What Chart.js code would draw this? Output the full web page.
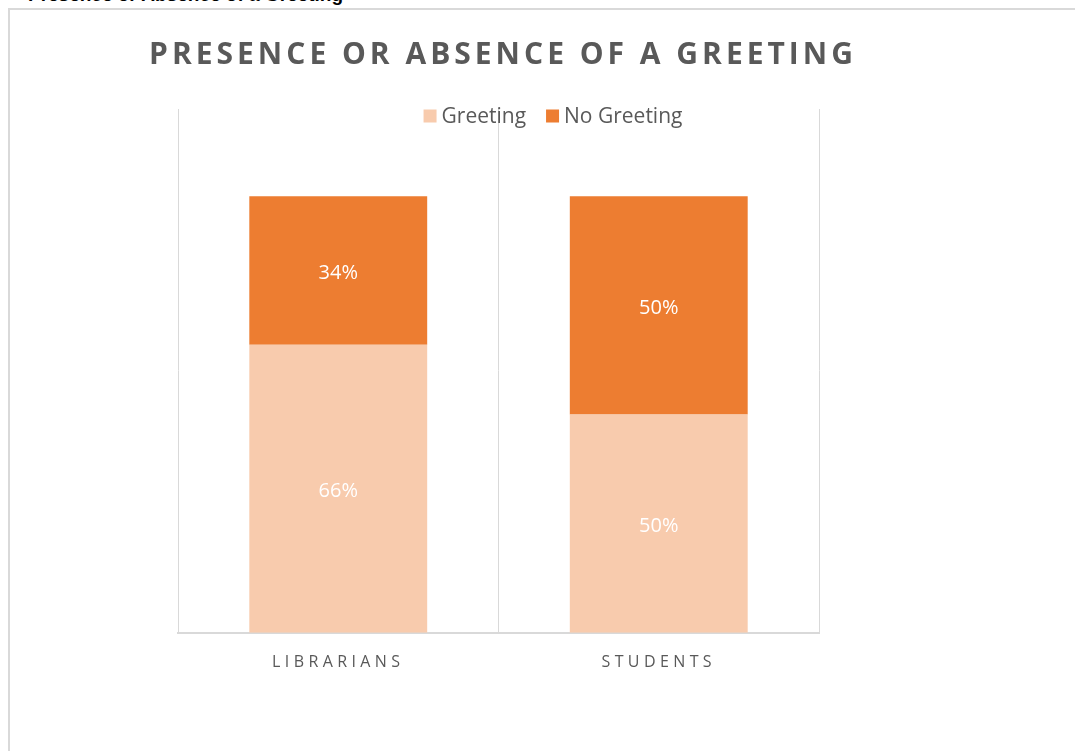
<!DOCTYPE html>
<html>
<head>
<meta charset="utf-8">
<script src="https://cdn.jsdelivr.net/npm/chart.js@4.4.0/dist/chart.umd.min.js"></script>
<style>
  html, body { margin: 0; padding: 0; background: #fff; overflow: hidden; }
  body { width: 1075px; height: 751px; position: relative; }
  #caption {
    position: absolute; top: -15px; left: 0; width: 343px; text-align: right;
    font: bold 19px "Liberation Sans", Arial, sans-serif; line-height: 19px;
    color: #000; white-space: nowrap;
  }
  #frame {
    position: absolute; left: 8px; top: 8px; width: 1200px; height: 900px;
    border-left: 2px solid #d9d9d9; border-top: 2px solid #d9d9d9;
  }
  #wrap { position: absolute; left: 8px; top: 8px; width: 1067px; height: 743px; }
</style>
</head>
<body>
<div id="caption">Presence or Absence of a Greeting</div>
<div id="frame"></div>
<div id="wrap"><canvas id="chart" width="1067" height="743"></canvas></div>
<script>
// chart data
const categories = ['LIBRARIANS', 'STUDENTS'];
const seriesNames = ['Greeting', 'No Greeting'];
const greetingValues = [0.66, 0.50];
const noGreetingValues = [0.34, 0.50];
const seriesColors = ['#f8cbad', '#ed7d31'];
const chartTitle = 'PRESENCE OR ABSENCE OF A GREETING';

const FONT = '"Open Sans", "Noto Sans", sans-serif';
const TEXT_GRAY = '#595959';
const GRID_GRAY = '#d9d9d9';

// letter spacing for the category labels, then back to normal for the rest
const spacingPlugin = {
    id: 'spacing',
    beforeDraw(chart) {
        chart.ctx.letterSpacing = '4.4px';
    },
    beforeDatasetsDraw(chart) {
        chart.ctx.letterSpacing = '0px';
    }
};

// percentages in the middle of each segment
const segmentLabels = {
    id: 'segmentLabels',
    afterDatasetsDraw(chart) {
        const ctx = chart.ctx;
        ctx.save();
        ctx.letterSpacing = '0px';
        ctx.fillStyle = '#ffffff';
        ctx.font = '20px ' + FONT;
        ctx.textAlign = 'center';
        ctx.textBaseline = 'middle';
        chart.data.datasets.forEach((ds, i) => {
            const meta = chart.getDatasetMeta(i);
            meta.data.forEach((bar, j) => {
                const txt = Math.round(ds.data[j] * 100) + '%';
                ctx.fillText(txt, bar.x, (bar.y + bar.base) / 2 + 3);
            });
        });
        ctx.restore();
    }
};

// title and the legend that sits inside the plot area
const titleAndLegend = {
    id: 'titleAndLegend',
    afterDraw(chart) {
        const ctx = chart.ctx;
        ctx.save();
        ctx.letterSpacing = '4px';
        ctx.fillStyle = TEXT_GRAY;
        ctx.font = 'bold 30px ' + FONT;
        ctx.textAlign = 'center';
        ctx.textBaseline = 'middle';
        ctx.fillText(chartTitle, 495, 47);

        ctx.letterSpacing = '0px';
        ctx.font = '21px ' + FONT;
        ctx.textAlign = 'left';
        const box = 13, gap = 5, between = 20;
        const items = chart.data.datasets.map(ds => ({
            label: ds.label, color: ds.backgroundColor, w: ctx.measureText(ds.label).width
        }));
        let total = 0;
        items.forEach((it, i) => { total += box + gap + it.w + (i ? between : 0); });
        let x = 545 - total / 2;
        const cy = chart.chartArea.top + 7;
        items.forEach(it => {
            ctx.fillStyle = it.color;
            ctx.fillRect(x, cy - box / 2, box, box);
            x += box + gap;
            ctx.fillStyle = TEXT_GRAY;
            ctx.fillText(it.label, x, cy + 1);
            x += it.w + between;
        });
        ctx.restore();
    }
};

new Chart(document.getElementById('chart'), {
    type: 'bar',
    data: {
        labels: categories,
        datasets: [
            { label: seriesNames[0], data: greetingValues, backgroundColor: seriesColors[0] },
            { label: seriesNames[1], data: noGreetingValues, backgroundColor: seriesColors[1] }
        ]
    },
    options: {
        responsive: false,
        animation: false,
        events: [],
        layout: { padding: { left: 170, right: 256, top: 101, bottom: 59 } },
        datasets: {
            bar: { categoryPercentage: 0.555, barPercentage: 1, borderWidth: 0 }
        },
        scales: {
            x: {
                stacked: true,
                grid: { color: GRID_GRAY, lineWidth: 1, drawTicks: false, offset: true },
                border: { color: GRID_GRAY, width: 2 },
                ticks: { color: TEXT_GRAY, padding: 20, font: { family: FONT, size: 16 } }
            },
            y: {
                stacked: true,
                display: false,
                min: 0,
                max: 1.2
            }
        },
        plugins: {
            legend: { display: false },
            title: { display: false },
            tooltip: { enabled: false }
        }
    },
    plugins: [spacingPlugin, segmentLabels, titleAndLegend]
});
</script>
</body>
</html>
